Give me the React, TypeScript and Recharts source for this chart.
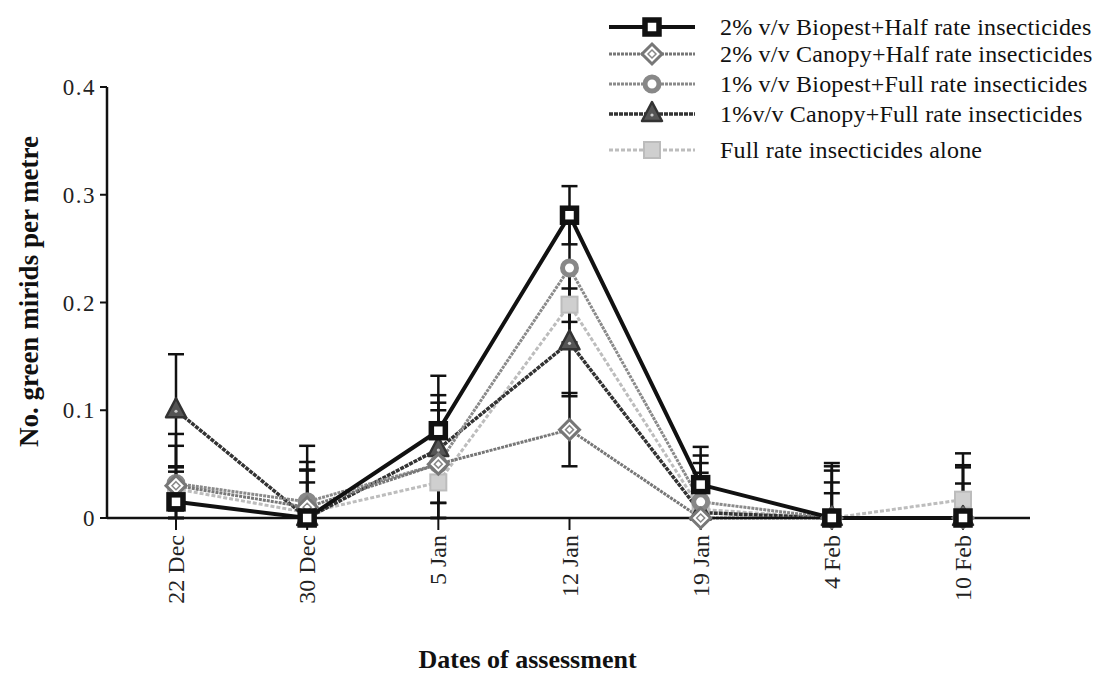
import { LineChart, Line, XAxis, YAxis, ErrorBar } from "recharts";

// assessment dates (x categories)
const dates = ["22 Dec", "30 Dec", "5 Jan", "12 Jan", "19 Jan", "4 Feb", "10 Feb"];

// mean green mirids per metre
const biopestHalf = [0.015, 0, 0.081, 0.281, 0.031, 0, 0];
const canopyHalf = [0.03, 0.01, 0.05, 0.082, 0, 0, 0];
const biopestFull = [0.032, 0.015, 0.05, 0.232, 0.015, 0, 0];
const canopyFull = [0.1, 0, 0.064, 0.163, 0.005, 0, 0];
const insecticideAlone = [0.027, 0.005, 0.033, 0.198, 0.008, 0, 0.017];

// standard errors
const biopestHalfErr = [0.028, 0.044, 0.051, 0.027, 0.035, 0.051, 0.049];
const canopyHalfErr = [0.048, 0.042, 0.05, 0.034, 0.042, 0.044, 0.02];
const biopestFullErr = [0.035, 0.052, 0.057, 0.05, 0.043, 0.033, 0.06];
const canopyFullErr = [0.052, 0.033, 0.05, 0.05, 0.046, 0.023, 0.047];
const insecticideAloneErr = [0.02, 0.04, 0.019, 0.035, 0.03, 0.048, 0.015];

const yTicks = [0, 0.1, 0.2, 0.3, 0.4];

const serif = '"Liberation Serif", "Times New Roman", serif';

// error bars never drop below zero
const withErr = (v: number, e: number) => [Math.min(e, v), e];

const rows = dates.map((date, i) => ({
  date,
  bh: biopestHalf[i],
  bhErr: withErr(biopestHalf[i], biopestHalfErr[i]),
  ch: canopyHalf[i],
  chErr: withErr(canopyHalf[i], canopyHalfErr[i]),
  bf: biopestFull[i],
  bfErr: withErr(biopestFull[i], biopestFullErr[i]),
  cf: canopyFull[i],
  cfErr: withErr(canopyFull[i], canopyFullErr[i]),
  ia: insecticideAlone[i],
  iaErr: withErr(insecticideAlone[i], insecticideAloneErr[i])
}));

type MarkProps = { cx: number; cy: number };

const SquareMark = ({ cx, cy }: MarkProps) => (
  <rect x={cx - 7} y={cy - 7} width={14} height={14} fill="#fff" stroke="#111" strokeWidth={5.5} />
);

const DiamondMark = ({ cx, cy }: MarkProps) => (
  <g>
    <path d={`M${cx},${cy - 10}L${cx + 10},${cy}L${cx},${cy + 10}L${cx - 10},${cy}Z`} fill="#fff" stroke="#777" strokeWidth={3} />
    <path d={`M${cx},${cy - 4}L${cx + 4},${cy}L${cx},${cy + 4}L${cx - 4},${cy}Z`} fill="none" stroke="#888" strokeWidth={1.5} />
  </g>
);

const CircleMark = ({ cx, cy }: MarkProps) => (
  <circle cx={cx} cy={cy} r={7} fill="#fff" stroke="#888" strokeWidth={5} />
);

const TriangleMark = ({ cx, cy }: MarkProps) => (
  <g>
    <path d={`M${cx},${cy - 12}L${cx + 10},${cy + 7}L${cx - 10},${cy + 7}Z`} fill="#555" stroke="#333" strokeWidth={2.5} strokeLinejoin="round" />
    <circle cx={cx} cy={cy + 1} r={1.6} fill="#ccc" />
  </g>
);

const LightSquareMark = ({ cx, cy }: MarkProps) => (
  <rect x={cx - 8} y={cy - 8} width={16} height={16} fill="#cfcfcf" stroke="#bcbcbc" strokeWidth={2} />
);

const series = [
  { key: "ia", name: "Full rate insecticides alone", stroke: "#bdbdbd", width: 3, dash: "4 2", Mark: LightSquareMark },
  { key: "cf", name: "1%v/v Canopy+Full rate insecticides", stroke: "#333", width: 3.5, dash: "4 1", Mark: TriangleMark },
  { key: "bf", name: "1% v/v Biopest+Full rate insecticides", stroke: "#8a8a8a", width: 3, dash: "3 1", Mark: CircleMark },
  { key: "ch", name: "2% v/v Canopy+Half rate insecticides", stroke: "#777", width: 3, dash: "3 1", Mark: DiamondMark },
  { key: "bh", name: "2% v/v Biopest+Half rate insecticides", stroke: "#111", width: 4, dash: undefined, Mark: SquareMark }
];

// legend order as in the figure
const legendOrder = ["bh", "ch", "bf", "cf", "ia"];
const legendRows = [19, 46, 76, 106, 142];

const DateTick = ({ x, y, payload }: any) => (
  <text
    x={x}
    y={y}
    transform={`rotate(-90 ${x} ${y})`}
    textAnchor="end"
    dominantBaseline="central"
    fontFamily={serif}
    fontSize={24}
    fill="#222"
  >
    {payload.value}
  </text>
);

export default function App() {
  return (
    <div style={{ position: "relative", width: 1100, height: 665 }}>
      <LineChart width={1100} height={665} data={rows} margin={{ top: 79, right: 78, left: 39, bottom: 75 }}>
        <XAxis
          dataKey="date"
          padding={{ left: 69, right: 67 }}
          height={80}
          interval={0}
          tick={<DateTick />}
          tickSize={12}
          tickMargin={5}
          axisLine={{ stroke: "#111", strokeWidth: 2.5 }}
          tickLine={{ stroke: "#111", strokeWidth: 2 }}
          label={{
            value: "Dates of assessment",
            position: "insideBottom",
            offset: -70,
            dx: -41,
            style: { fontFamily: serif, fontSize: 26, fontWeight: "bold", fill: "#111" }
          }}
        />
        <YAxis
          domain={[0, 0.4]}
          ticks={yTicks}
          width={60}
          tickFormatter={(v: number) => (v === 0 ? "0" : v.toFixed(1))}
          tickSize={7}
          tickMargin={4}
          axisLine={{ stroke: "#111", strokeWidth: 2.5 }}
          tickLine={{ stroke: "#111", strokeWidth: 2 }}
          tick={{ fontFamily: serif, fontSize: 23, fill: "#222", letterSpacing: 1.5 }}
          label={{
            value: "No. green mirids per metre",
            angle: -90,
            position: "insideLeft",
            offset: -19,
            dy: -11,
            style: { textAnchor: "middle", fontFamily: serif, fontSize: 27, fontWeight: "bold", fill: "#111" }
          }}
        />
        {series.map((s) => (
          <Line
            key={s.key}
            dataKey={s.key}
            name={s.name}
            type="linear"
            stroke={s.stroke}
            strokeWidth={s.width}
            strokeDasharray={s.dash}
            isAnimationActive={false}
            activeDot={false}
            dot={(p: any) => <s.Mark key={`${s.key}-${p.index}`} cx={p.cx} cy={p.cy} />}
          >
            <ErrorBar dataKey={`${s.key}Err`} direction="y" width={8} stroke="#111" strokeWidth={2.5} isAnimationActive={false} />
          </Line>
        ))}
      </LineChart>
      <svg width={526} height={165} style={{ position: "absolute", left: 590, top: 0, pointerEvents: "none" }}>
        {legendOrder.map((k, i) => {
          const s = series.find((it) => it.key === k)!;
          const cy = legendRows[i];
          return (
            <g key={k}>
              <line x1={11} x2={97} y1={cy} y2={cy} stroke={s.stroke} strokeWidth={s.width} strokeDasharray={s.dash} />
              <s.Mark cx={54} cy={cy} />
              <text x={122} y={cy + 8} fontFamily={serif} fontSize={24} letterSpacing={0.2} fill="#111">
                {s.name}
              </text>
            </g>
          );
        })}
      </svg>
    </div>
  );
}
